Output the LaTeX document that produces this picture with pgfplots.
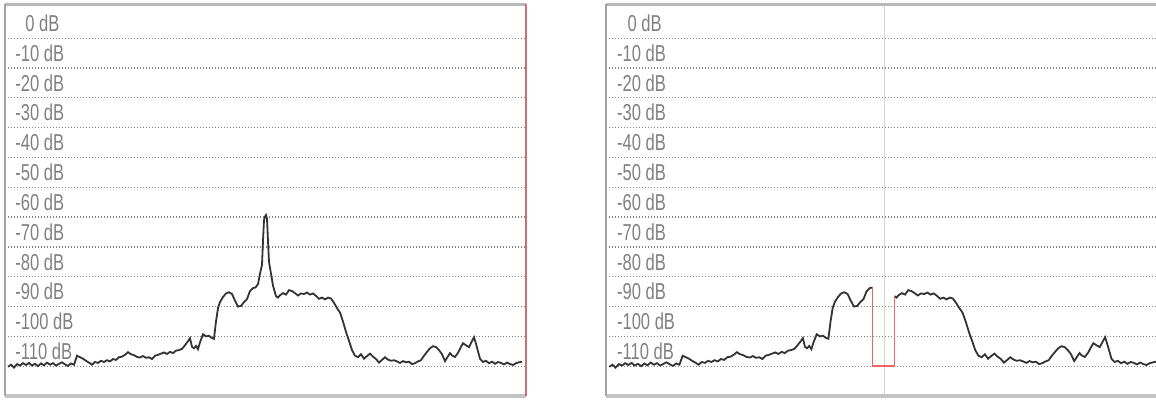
\documentclass[border=0pt]{standalone}
\usepackage{pgfplots}
\pgfplotsset{compat=1.18}
\usepackage{pgfplotstable}
\usepackage{fontspec}
\setmainfont{Liberation Sans}
\definecolor{gridc}{HTML}{858585}
\definecolor{labc}{HTML}{808080}
\definecolor{leftc}{HTML}{A4A4A4}
\definecolor{topc}{HTML}{B8B8B8}
\definecolor{botc}{HTML}{C4C4C4}
\definecolor{redb}{HTML}{C87070}
\definecolor{redl}{HTML}{F06464}
\definecolor{vlc}{HTML}{D4D4D4}
\definecolor{linec}{HTML}{333333}

\pgfplotstableread{
x y
3 -120.2
6 -119.5
9 -120.5
12 -119.3
15 -119.8
18 -119.0
21 -119.6
24 -118.9
27 -119.8
30 -119.2
33 -120.0
36 -119.1
39 -119.7
42 -118.8
45 -119.5
48 -119.0
51 -119.8
54 -119.2
57 -118.7
60 -119.4
63 -119.9
66 -119.1
69 -119.5
72 -116.5
75 -117.0
78 -117.5
81 -118.2
84 -118.8
87 -119.5
90 -118.6
93 -118.9
96 -118.2
99 -118.6
102 -118.0
105 -118.4
108 -117.6
111 -117.9
114 -117.0
117 -116.8
120 -116.2
123 -115.3
126 -116.0
129 -116.3
132 -116.9
135 -117.1
138 -116.6
141 -117.2
144 -117.0
147 -117.6
150 -116.5
153 -116.2
156 -115.8
159 -115.4
162 -115.9
165 -115.2
168 -115.6
171 -114.8
174 -114.6
177 -114.2
180 -113.0
183 -111.6
185 -110.6
187 -113.5
189 -114.0
191 -113.2
193 -114.3
195 -112.0
198 -109.3
201 -110.0
204 -109.8
207 -110.6
209 -110.8
211 -105.0
213 -100.5
215 -98.5
218 -96.8
221 -95.6
224 -95.2
227 -95.8
230 -98.0
233 -100.0
236 -99.8
239 -98.5
242 -97.5
245 -94.8
248 -93.8
250.5 -93.6
253 -92.5
255 -89.0
257 -86.0
258 -78.0
259 -71.0
260 -69.8
261 -69.3
262 -70.5
263 -78.0
264 -85.0
266 -89.0
268 -93.0
271 -96.5
273 -97.0
275 -96.2
278 -95.5
281 -96.0
284 -94.5
287 -94.8
290 -95.5
293 -96.3
296 -95.6
299 -95.8
302 -95.3
305 -96.0
308 -95.6
311 -96.4
314 -97.4
317 -97.0
320 -97.6
323 -97.0
326 -97.3
329 -98.8
332 -100.5
335 -102.0
338 -105.0
341 -108.5
344 -111.5
347 -114.6
350 -116.5
353 -117.0
356 -116.0
359 -117.5
362 -116.6
365 -115.8
368 -116.8
371 -117.6
374 -118.8
377 -117.9
380 -117.0
383 -117.8
386 -118.2
389 -118.0
392 -118.4
395 -118.9
398 -118.3
401 -118.7
404 -118.5
407 -119.3
410 -119.0
413 -118.4
416 -118.0
419 -116.5
422 -115.2
425 -114.0
428 -113.3
431 -113.6
434 -114.6
437 -116.0
440 -118.3
442 -117.2
445 -115.6
447 -116.4
450 -116.9
453 -115.5
456 -113.5
458 -112.3
461 -113.0
464 -113.6
467 -111.6
469 -110.3
471 -112.5
473 -115.0
475 -117.5
478 -118.6
481 -118.2
484 -119.0
487 -118.5
490 -119.2
493 -118.6
496 -118.9
499 -119.4
502 -118.8
505 -119.3
508 -119.6
511 -119.0
514 -118.7
517 -118.5
}\spec

\newcommand{\lab}[1]{\scalebox{0.72}[1]{#1}}
\tikzset{dbl/.style={anchor=west,inner sep=0pt,text=labc,font=\fontsize{11.5}{13}\selectfont}}
\newcommand{\dblabels}{%
  \node[dbl] at (axis cs:20,-5) {\lab{0 dB}};
  \node[dbl] at (axis cs:10,-15) {\lab{-10 dB}};
  \node[dbl] at (axis cs:10,-25) {\lab{-20 dB}};
  \node[dbl] at (axis cs:10,-35) {\lab{-30 dB}};
  \node[dbl] at (axis cs:10,-45) {\lab{-40 dB}};
  \node[dbl] at (axis cs:10,-55) {\lab{-50 dB}};
  \node[dbl] at (axis cs:10,-65) {\lab{-60 dB}};
  \node[dbl] at (axis cs:10,-75) {\lab{-70 dB}};
  \node[dbl] at (axis cs:10,-85) {\lab{-80 dB}};
  \node[dbl] at (axis cs:10,-95) {\lab{-90 dB}};
  \node[dbl] at (axis cs:10,-105) {\lab{-100 dB}};
  \node[dbl] at (axis cs:10,-115) {\lab{-110 dB}};
}

\pgfplotsset{panel/.style={
  scale only axis, height=195.75pt,
  xmin=0, xmax=521, ymin=-130, ymax=1.3,
  axis line style={draw=none},
  xtick=\empty, ytick={-120,-110,...,-10}, yticklabels={},
  tick style={draw=none}, major tick length=0pt,
  ymajorgrids,
  major grid style={gridc, line width=0.6pt, dash pattern=on 0.6pt off 0.9pt},
  clip=false, anchor=south west,
}}

\begin{document}
\begin{tikzpicture}
\useasboundingbox (0,0) rectangle (578pt,200.5pt);
% left panel
\begin{axis}[panel, at={(2.5pt,2.5pt)}, width=260.5pt]
  \addplot[linec, line width=0.9pt] table[x=x,y=y] {\spec};
  \dblabels
  \draw[botc, line width=2.2pt] (rel axis cs:0,0) -- (rel axis cs:1,0);
  \draw[topc, line width=1.5pt] (rel axis cs:0,1) -- (rel axis cs:1,1);
  \draw[leftc, line width=1pt] (rel axis cs:0,0) -- (rel axis cs:0,1);
  \draw[redb, line width=1.3pt] (rel axis cs:1,0) -- (rel axis cs:1,1);
\end{axis}
% right panel
\begin{axis}[panel, at={(303pt,2.5pt)}, width=277.2pt]
  \addplot[vlc, line width=0.5pt] coordinates {(261.3,-130) (261.3,1.3)};
  \addplot[linec, line width=0.9pt, restrict x to domain=0:250.6] table[x=x,y=y] {\spec};
  \addplot[linec, line width=0.9pt, restrict x to domain=270.5:521] table[x=x,y=y] {\spec};
  \addplot[redl, line width=0.8pt] coordinates {(250.5,-93.6) (250.5,-120) (271,-120) (271,-96.5)};
  \dblabels
  \draw[botc, line width=2.2pt] (rel axis cs:0,0) -- (rel axis cs:1,0);
  \draw[topc, line width=1.5pt] (rel axis cs:0,1) -- (rel axis cs:1,1);
  \draw[leftc, line width=1pt] (rel axis cs:0,0) -- (rel axis cs:0,1);
\end{axis}
\end{tikzpicture}
\end{document}
